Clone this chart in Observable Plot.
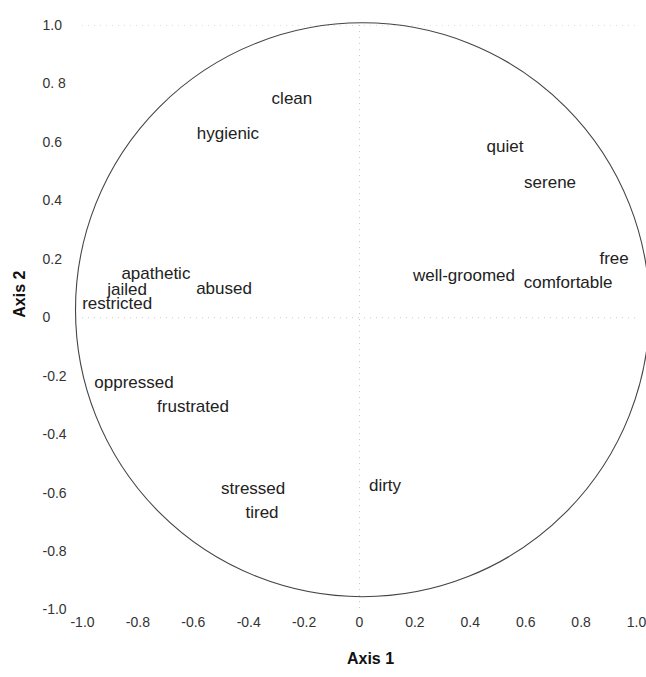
<!DOCTYPE html>
<html>
<head>
<meta charset="utf-8">
<script src="https://cdn.jsdelivr.net/npm/d3@7"></script>
<script src="https://cdn.jsdelivr.net/npm/@observablehq/plot@0.6"></script>
<style>
  html, body { margin: 0; padding: 0; background: #fff; }
</style>
</head>
<body>
<div id="chart"></div>
<script>
// Word labels and their coordinates on Axis 1 / Axis 2
const words = ["clean","hygienic","quiet","serene","free","well-groomed","comfortable",
  "apathetic","jailed","restricted","abused","oppressed","frustrated","stressed","tired","dirty"];
const axis1 = [-0.244,-0.475,0.525,0.688,0.919,0.377,0.753,
  -0.735,-0.839,-0.875,-0.489,-0.814,-0.601,-0.384,-0.352,0.092];
const axis2 = [0.750,0.631,0.586,0.463,0.203,0.145,0.121,
  0.152,0.095,0.047,0.100,-0.221,-0.304,-0.584,-0.666,-0.574];

// Tick values and labels
const xTicks = [-1,-0.8,-0.6,-0.4,-0.2,0,0.2,0.4,0.6,0.8,1];
const xTickLabels = ["-1.0","-0.8","-0.6","-0.4","-0.2","0","0.2","0.4","0.6","0.8","1.0"];
const yTicks = [-1,-0.8,-0.6,-0.4,-0.2,0,0.2,0.4,0.6,0.8,1];
const yTickLabels = ["-1.0","-0.8","-0.6","-0.4","-0.2","0","0.2","0.4","0.6","0. 8","1.0"];

const data = words.map((w, i) => ({word: w, x: axis1[i], y: axis2[i]}));
const xLab = new Map(xTicks.map((t, i) => [t, xTickLabels[i]]));
const yLab = new Map(yTicks.map((t, i) => [t, yTickLabels[i]]));

const chart = Plot.plot({
  width: 646,
  height: 677,
  marginLeft: 82,
  marginRight: 10,
  marginTop: 25,
  marginBottom: 67.5,
  x: {domain: [-1, 1]},
  y: {domain: [-1, 1]},
  style: {fontFamily: "'Liberation Sans', Arial, sans-serif", background: "#fff", color: "#333"},
  marks: [
    Plot.ruleY([0], {stroke: "#c8c8c8", strokeDasharray: "1,5"}),
    Plot.ruleY([1], {stroke: "#dddddd", strokeDasharray: "1,5"}),
    Plot.ruleX([0], {stroke: "#c8c8c8", strokeDasharray: "1,5"}),
    Plot.dot([{x: 0, y: 0}], {x: "x", y: "y", r: 287, stroke: "#444", strokeWidth: 1.1, fill: "none", dx: 3, dy: -8}),
    Plot.text(data, {x: "x", y: "y", text: "word", fontSize: 17, fill: "#222"}),
    Plot.axisX({ticks: xTicks, tickFormat: d => xLab.get(d), tickSize: 0, tickPadding: 7, fontSize: 14, label: null, fill: "#333"}),
    Plot.axisY({ticks: yTicks, tickFormat: d => yLab.get(d), tickSize: 0, tickPadding: 40, textAnchor: "start", fontSize: 14, label: null, fill: "#333"}),
    Plot.text(["Axis 1"], {frameAnchor: "bottom", dy: 54, dx: 11, fontWeight: "bold", fontSize: 16, fill: "#111"}),
    Plot.text(["Axis 2"], {frameAnchor: "left", dx: -63, rotate: -90, fontWeight: "bold", fontSize: 16, fill: "#111"})
  ]
});
document.getElementById("chart").appendChild(chart);
</script>
</body>
</html>
